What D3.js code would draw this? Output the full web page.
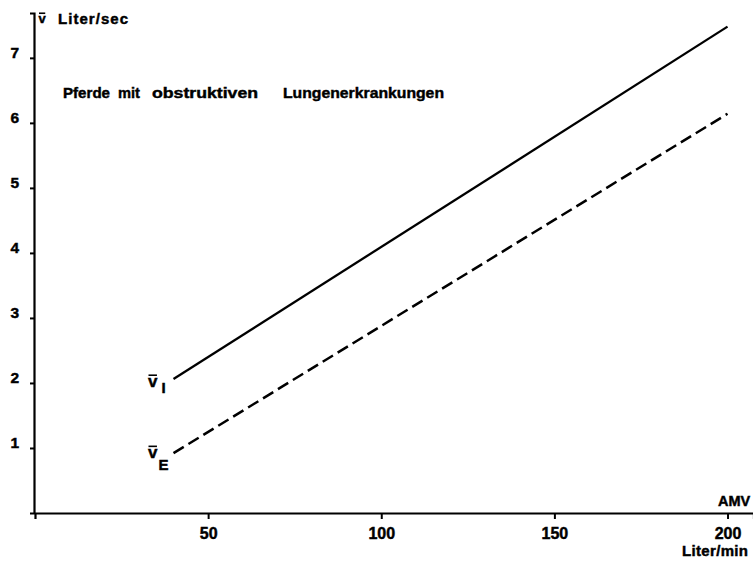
<!DOCTYPE html>
<html>
<head>
<meta charset="utf-8">
<script src="https://cdn.jsdelivr.net/npm/d3@7/dist/d3.min.js"></script>
<style>
  html, body { margin: 0; padding: 0; background: #fff; }
  svg { display: block; }
  text { font-family: "Liberation Sans", Arial, Helvetica, sans-serif; font-weight: bold; fill: #000; stroke: #000; stroke-width: 0.45px; }
</style>
</head>
<body>
<svg id="chart" width="753" height="564"></svg>
<script>
// ---- data ----
const xTickValues = [50, 100, 150, 200];
const yTickValues = [1, 2, 3, 4, 5, 6, 7];
const amv = [40, 200];            // AMV, Liter/min
const vInspiration = [2.06, 7.48]; // v̄ I, Liter/sec
const vExspiration = [0.92, 6.14]; // v̄ E, Liter/sec
const titleWords = ["Pferde", "mit", "obstruktiven", "Lungenerkrankungen"];

// ---- chart ----
const svg = d3.select("#chart");
const x = d3.scaleLinear().domain([0, 207.5]).range([35, 753.5]);
const y = d3.scaleLinear().domain([0, 7.69]).range([513, 13]);

const ink = "#000";
const fontFam = "'Liberation Sans', Arial, sans-serif";

// axes
const gx = svg.append("g").attr("transform", `translate(0,${y(0)})`)
  .call(d3.axisBottom(x).tickValues(xTickValues).tickSizeOuter(0).tickSize(6).tickPadding(9).tickFormat(d3.format("d")));
gx.select(".domain").attr("stroke", ink).attr("stroke-width", 2.2);
gx.selectAll(".tick line").attr("stroke", ink).attr("stroke-width", 2);
gx.selectAll(".tick text").attr("font-size", 16).attr("fill", ink)
  .attr("font-family", fontFam).attr("font-weight", "bold");

const gy = svg.append("g").attr("transform", `translate(${x(0) - 1},0)`)
  .call(d3.axisLeft(y).tickValues(yTickValues).tickSizeOuter(0).tickSize(4).tickPadding(11).tickFormat(d3.format("d")));
gy.select(".domain").attr("stroke", ink).attr("stroke-width", 2.2);
gy.selectAll(".tick line").attr("stroke", ink).attr("stroke-width", 2);
gy.selectAll(".tick text").attr("font-size", 15.5).attr("fill", ink).attr("dy", "0")
  .attr("font-family", fontFam).attr("font-weight", "bold");

// lines
const line = d3.line().x(d => x(d[0])).y(d => y(d[1]));
svg.append("path")
  .datum(amv.map((a, i) => [a, vInspiration[i]]))
  .attr("d", line).attr("fill", "none").attr("stroke", ink).attr("stroke-width", 2.3);
svg.append("path")
  .datum(amv.map((a, i) => [a, vExspiration[i]]))
  .attr("d", line).attr("fill", "none").attr("stroke", ink).attr("stroke-width", 2.5)
  .attr("stroke-dasharray", "12,5.5");

// helper: v with bar and subscript
function vbar(px, py, size, sub, subSize, subDx, subDy) {
  svg.append("text").attr("x", px).attr("y", py).attr("font-size", size).text("v");
  const w = size * 0.556;
  svg.append("line").attr("x1", px + 0.5).attr("x2", px + w - 0.5)
    .attr("y1", py - size * 0.52 - 3).attr("y2", py - size * 0.52 - 3)
    .attr("stroke", ink).attr("stroke-width", 1.6);
  if (sub) {
    svg.append("text").attr("x", px + w + subDx).attr("y", py + subDy).attr("font-size", subSize).text(sub);
  }
}

// axis titles
vbar(38.5, 23, 13, null);
svg.append("text").attr("x", 58).attr("y", 24).attr("font-size", 15).attr("textLength", 70).text("Liter/sec");
svg.append("text").attr("x", 718).attr("y", 506).attr("font-size", 14.5).text("AMV");
svg.append("text").attr("x", 682).attr("y", 556).attr("font-size", 15).attr("textLength", 66).text("Liter/min");

// series labels
vbar(x(amv[0]) - 25.5, y(vInspiration[0]) + 8, 17, "I", 15, 4, 6);
vbar(x(amv[0]) - 25.5, y(vExspiration[0]) + 5, 17, "E", 15, 1, 12);

// title
const titleX = [63, 118, 152, 283];
const titleW = [47, 22, 106, 161];
titleWords.forEach((w, i) => {
  svg.append("text").attr("x", titleX[i]).attr("y", 98).attr("font-size", 15)
    .attr("textLength", titleW[i]).attr("lengthAdjust", "spacingAndGlyphs").text(w);
});
</script>
</body>
</html>
